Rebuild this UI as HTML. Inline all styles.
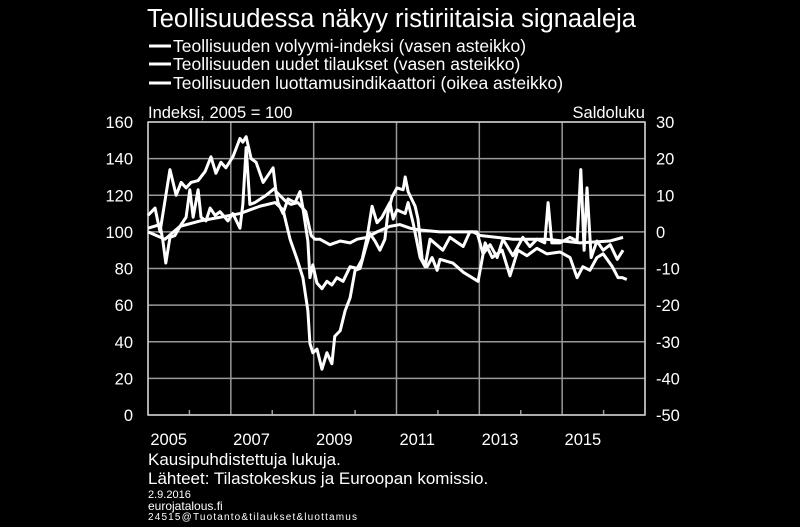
<!DOCTYPE html>
<html><head><meta charset="utf-8"><style>
body{margin:0;background:#000;width:800px;height:522px;overflow:hidden;font-family:"Liberation Sans",sans-serif;color:#fff}
svg text{font-family:"Liberation Sans",sans-serif;fill:#fff}
</style></head><body>
<svg id="chart" width="800" height="522" xmlns="http://www.w3.org/2000/svg">
<text x="147" y="27" font-size="25.5">Teollisuudessa näkyy ristiriitaisia signaaleja</text>
<g font-size="17.5">
<line x1="149" y1="46" x2="171" y2="46" stroke="#fff" stroke-width="3"/>
<text x="173" y="52">Teollisuuden volyymi-indeksi (vasen asteikko)</text>
<line x1="149" y1="64" x2="171" y2="64" stroke="#fff" stroke-width="3"/>
<text x="173" y="70">Teollisuuden uudet tilaukset (vasen asteikko)</text>
<line x1="149" y1="83" x2="171" y2="83" stroke="#fff" stroke-width="3"/>
<text x="173" y="89">Teollisuuden luottamusindikaattori (oikea asteikko)</text>
</g>
<text x="148" y="118" font-size="16.5">Indeksi, 2005 = 100</text>
<text x="645" y="118" font-size="16.5" text-anchor="end">Saldoluku</text>
<g id="grid"></g><g id="axes"></g><g id="series"></g>
<g>
<text x="148" y="465" font-size="17">Kausipuhdistettuja lukuja.</text>
<text x="148" y="484" font-size="17">Lähteet: Tilastokeskus ja Euroopan komissio.</text>
<text x="148" y="498" font-size="11">2.9.2016</text>
<text x="148" y="510" font-size="12">eurojatalous.fi</text>
<text x="148" y="520" font-size="10" textLength="209">24515@Tuotanto&amp;tilaukset&amp;luottamus</text>
</g>
</svg>
<script>
const leftTicks=[0,20,40,60,80,100,120,140,160];
const rightTicks=[-50,-40,-30,-20,-10,0,10,20,30];
const yearLabels=[2005,2007,2009,2011,2013,2015];
const volDates=[2005.00,2005.17,2005.29,2005.53,2005.68,2005.80,2005.92,2006.04,2006.21,2006.38,2006.52,2006.64,2006.76,2006.88,2007.05,2007.22,2007.29,2007.37,2007.49,2007.61,2007.78,2008.02,2008.09,2008.31,2008.45,2008.62,2008.81,2008.94,2009.03,2009.15,2009.39,2009.64,2009.88,2010.05,2010.29,2010.53,2010.84,2011.08,2011.33,2011.57,2012.05,2012.36,2012.85,2013.02,2013.81,2014.63,2015.43,2016.15,2016.47];
const volVals=[109,113,100,134,120,127,124,127,128,133,141,132,138,135,141,151,149,152,140,138,127,135,122,117,115,116,111,98,96,96,93,95,94,96,97,100,103,104,102,101,100,100,100,98,96,96,94,95,97];
const ordDates=[2005.00,2005.29,2005.36,2005.43,2005.53,2005.65,2005.80,2005.92,2006.01,2006.09,2006.21,2006.28,2006.40,2006.50,2006.62,2006.74,2006.93,2007.05,2007.22,2007.29,2007.37,2007.46,2007.58,2007.85,2008.07,2008.14,2008.26,2008.38,2008.55,2008.67,2008.74,2008.86,2008.91,2008.98,2009.08,2009.20,2009.32,2009.44,2009.56,2009.71,2009.88,2010.05,2010.17,2010.29,2010.41,2010.53,2010.65,2010.84,2010.92,2011.01,2011.21,2011.28,2011.40,2011.57,2011.69,2011.81,2012.12,2012.29,2012.61,2012.77,2012.94,2013.09,2013.26,2013.43,2013.57,2013.81,2014.05,2014.22,2014.39,2014.58,2014.66,2014.75,2014.95,2015.19,2015.36,2015.45,2015.53,2015.60,2015.70,2015.84,2015.99,2016.16,2016.33,2016.47];
const ordVals=[102,104,95,83,97,98,104,108,123,108,123,108,106,113,109,111,106,110,102,115,146,115,116,120,124,116,110,118,116,122,113,95,75,82,72,69,73,71,75,73,81,80,85,97,114,105,108,116,107,112,110,116,105,86,81,96,90,97,92,100,100,88,93,86,96,87,97,92,96,94,116,94,94,97,95,134,90,124,86,95,90,93,85,90];
const confDates=[2005.00,2005.41,2005.77,2006.26,2006.74,2007.22,2007.70,2008.07,2008.26,2008.43,2008.60,2008.74,2008.86,2008.91,2008.98,2009.08,2009.20,2009.32,2009.44,2009.51,2009.64,2009.76,2009.88,2010.00,2010.12,2010.24,2010.36,2010.48,2010.60,2010.72,2010.79,2010.89,2011.01,2011.16,2011.21,2011.28,2011.45,2011.52,2011.62,2011.74,2011.86,2011.98,2012.05,2012.36,2012.61,2012.97,2013.14,2013.31,2013.55,2013.74,2013.93,2014.15,2014.39,2014.63,2014.95,2015.19,2015.36,2015.50,2015.67,2015.84,2015.99,2016.21,2016.35,2016.45,2016.56];
const confVals=[0,-2,1.5,3,4,5,7,8,6,-2,-7.5,-12.5,-21.5,-30.5,-33,-32,-37.5,-33,-36,-28.5,-27,-21.5,-18,-10.5,-10,-5,-0.5,-2.5,-5,-2,5,9.5,12,11.5,15,11,7,3.5,-7.5,-9.5,-7,-10.5,-7.5,-8.5,-11,-13.5,-3,-7,-5,-12,-5,-6.5,-4.5,-6,-5.5,-7,-12.5,-9.5,-10.5,-7,-6,-9.5,-12.5,-12.5,-13];
const X0=148,X1=645,Y0=415,Y1=122,YR0=2005,YR1=2017;
const xs=d=>X0+(d-YR0)/(YR1-YR0)*(X1-X0);
const yl=v=>Y0-v/160*(Y0-Y1);
const yr=v=>Y0-(v+50)/80*(Y0-Y1);
const NS='http://www.w3.org/2000/svg';
function mk(tag,attrs,parent){const e=document.createElementNS(NS,tag);for(const k in attrs)e.setAttribute(k,attrs[k]);parent.appendChild(e);return e;}
const grid=document.getElementById('grid'),axes=document.getElementById('axes'),ser=document.getElementById('series');
leftTicks.forEach(v=>{const l=mk('line',{x1:X0,x2:X1,y1:yl(v),y2:yl(v),stroke:'#999','stroke-width':1.5},grid);


const t=mk('text',{x:133,y:yl(v)+6,'font-size':16.5,'text-anchor':'end'},axes);t.textContent=v;

});
rightTicks.forEach(v=>{const t=mk('text',{x:656,y:yr(v)+6,'font-size':16.5},axes);t.textContent=v;

});
for(let y=YR0;y<=YR1;y++){const x=xs(y);
if((y-YR0)%2===0){const l=mk('line',{x1:x,x2:x,y1:Y1,y2:Y0,stroke:'#999','stroke-width':1.5},grid);

}
else{const l=mk('line',{x1:x,x2:x,y1:Y0-5,y2:Y0,stroke:'#999','stroke-width':1.5},grid);

}}
mk('rect',{x:X0,y:Y1,width:X1-X0,height:Y0-Y1,fill:'none',stroke:'#ccc','stroke-width':1.5},grid);
yearLabels.forEach(y=>{const t=mk('text',{x:xs(y+0.5),y:445,'font-size':16.5,'text-anchor':'middle'},axes);t.textContent=y;

});
function line(d,v,f,name){const p=mk('polyline',{points:d.map((x,i)=>xs(x)+','+f(v[i])).join(' '),fill:'none',stroke:'#fff','stroke-width':3,'stroke-linejoin':'round'},ser);

}
line(volDates,volVals,yl,'volume-index-line');
line(ordDates,ordVals,yl,'new-orders-line');
line(confDates,confVals,yr,'confidence-line');
</script>
</body></html>
